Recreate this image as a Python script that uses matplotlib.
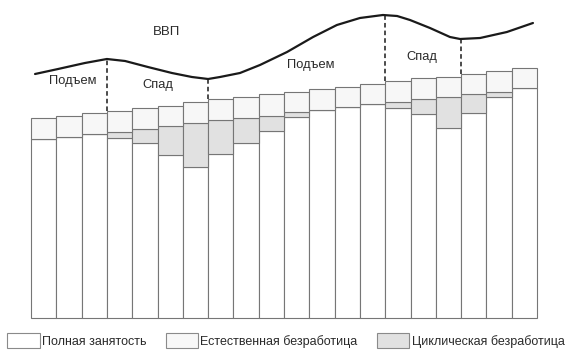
"""
Employment structure over the business cycle: stacked bars of full
employment, cyclical and natural unemployment with the GDP curve above.
"""
import matplotlib.pyplot as plt
from matplotlib.patches import Patch

###############################################################################
# Data (arbitrary units)

periods = list(range(20))
employed = [179, 181, 184, 180, 175, 163, 151, 164, 175, 187,
            201, 208, 211, 214, 210, 204, 190, 205, 221, 230]
cyclical = [0, 0, 0, 6, 14, 29, 44, 34, 25, 15,
            5, 0, 0, 0, 6, 15, 31, 19, 5, 0]
natural = [21, 21, 21, 21, 21, 20, 21, 21, 21, 22,
           20, 21, 20, 20, 21, 21, 20, 20, 21, 20]

# GDP curve
gdp_x = [0.16, 1.07, 2.13, 3.00, 3.72, 4.62, 5.57, 6.36, 7.00, 7.47,
         8.26, 9.05, 10.12, 11.15, 12.09, 13.00, 13.91, 14.47, 14.98,
         15.77, 16.56, 16.96, 17.75, 18.81, 19.84]
gdp_y = [244, 249, 255, 259, 257, 251, 245, 241, 239, 241,
         245, 253, 266, 281, 293, 300, 303, 302, 298,
         290, 281, 279, 280, 286, 295]

# turning points of the cycle (bar index) and GDP level there
turn_x = [3, 7, 14, 17]
turn_gdp = [259, 239, 303, 279]

phase_labels = ['Подъем', 'Спад', 'Подъем', 'Спад']
phase_x = [1.66, 5.02, 11.07, 15.45]
phase_y = [237, 233, 253, 261]

legend_labels = ['Полная занятость', 'Естественная безработица',
                 'Циклическая безработица']

###############################################################################
# Plot

plt.rcParams['font.family'] = ['Liberation Sans', 'DejaVu Sans']

fig = plt.figure(figsize=(5.75, 3.59), dpi=100)
ax = fig.add_axes([0, 0, 1, 1])

edge = '#767676'
c_emp, c_nat, c_cyc = 'white', '#f7f7f7', '#e1e1e1'

cyc_bottom = employed
nat_bottom = [e + c for e, c in zip(employed, cyclical)]
tops = [b + n for b, n in zip(nat_bottom, natural)]

ax.bar(periods, employed, width=1, align='edge', color=c_emp,
       edgecolor=edge, linewidth=0.8)
ax.bar(periods, cyclical, width=1, align='edge', bottom=cyc_bottom,
       color=c_cyc, edgecolor=edge, linewidth=0.8)
ax.bar(periods, natural, width=1, align='edge', bottom=nat_bottom,
       color=c_nat, edgecolor=edge, linewidth=0.8)

# GDP line and dashed phase borders
ax.plot(gdp_x, gdp_y, color='#1a1a1a', linewidth=1.6,
        solid_joinstyle='round', solid_capstyle='round')
ax.vlines(turn_x, [tops[i] for i in turn_x], turn_gdp,
          colors='#1a1a1a', linestyles=(0, (3, 2)), linewidth=1.1)

ax.text(5.34, 286, 'ВВП', fontsize=9.5, color='#2a2a2a',
        ha='center', va='center')
for lab, x, y in zip(phase_labels, phase_x, phase_y):
    ax.text(x, y, lab, fontsize=9.3, color='#2a2a2a',
            ha='center', va='center')

handles = [Patch(facecolor=c, edgecolor='#8a8a8a', linewidth=0.8)
           for c in (c_emp, c_nat, c_cyc)]
fig.legend(handles, legend_labels, loc='lower left', ncol=3,
           bbox_to_anchor=(1 / 575, 5 / 359), frameon=False,
           fontsize=9, handlelength=2.6, handleheight=1.4,
           handletextpad=0.2, columnspacing=1.5, borderpad=0,
           labelcolor='#2a2a2a')

ax.set_xlim(-31 / 25.3, 544 / 25.3)
ax.set_ylim(-41, 318)
ax.axis('off')

fig.savefig('out.png', dpi=100)
